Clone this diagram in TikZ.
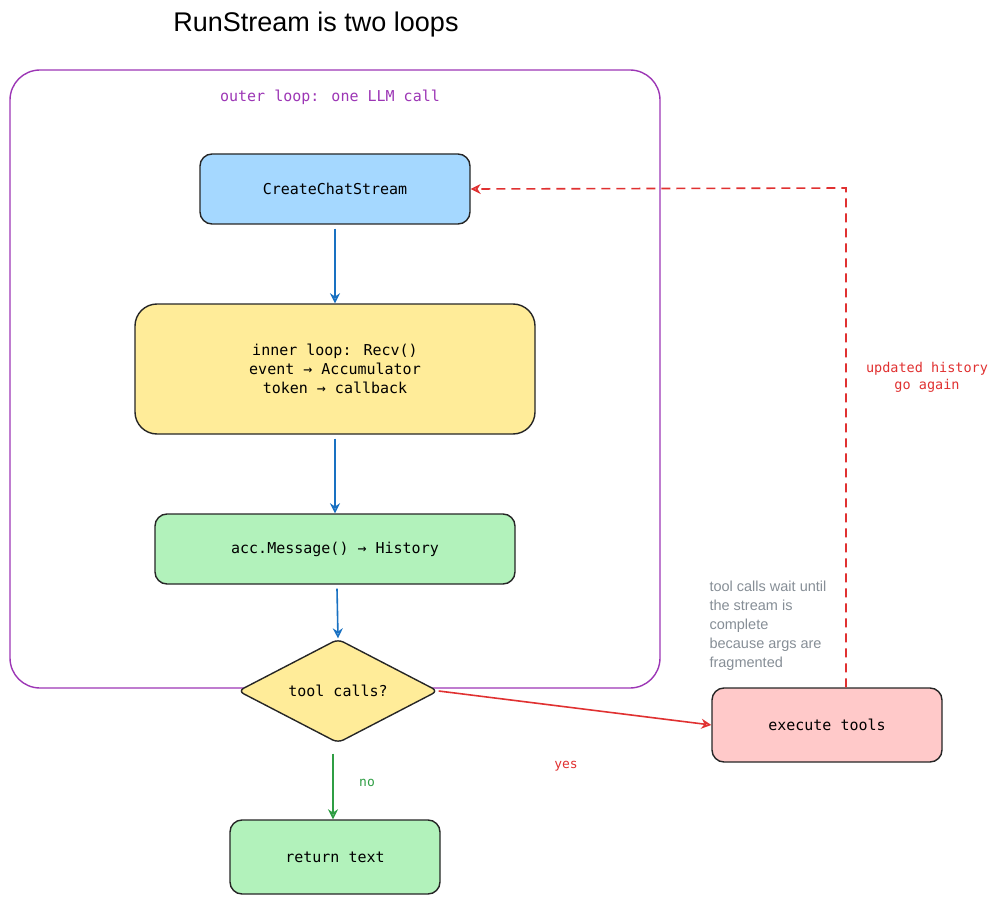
\documentclass[tikz,border=0pt]{standalone}
\usepackage{fontspec}
\setmainfont{Liberation Sans}
\newfontfamily\monof{DejaVu Sans Mono}
\usetikzlibrary{shapes.geometric,arrows.meta}
\definecolor{cblue}{HTML}{A5D8FF}
\definecolor{cyel}{HTML}{FFEC99}
\definecolor{cgreen}{HTML}{B2F2BB}
\definecolor{cpink}{HTML}{FFC9C9}
\definecolor{apurple}{HTML}{9C36B5}
\definecolor{ablue}{HTML}{1971C2}
\definecolor{agreen}{HTML}{2F9E44}
\definecolor{ared}{HTML}{E03131}
\definecolor{ngrey}{HTML}{868E96}
\begin{document}
\begin{tikzpicture}[x=1pt,y=-1pt,
 box/.style={draw=black!85,line width=1.4pt,rounded corners=12pt,font=\monof\fontsize{15}{19}\selectfont,align=center},
 barrow/.style={-{Stealth[open,length=10pt,width=10pt]},line width=1.6pt}]
\useasboundingbox (0,0) rectangle (999,904);
\node[font=\fontsize{27}{32}\selectfont] (title) at (316,25) {RunStream is two loops};
\draw[apurple,line width=1.4pt,rounded corners=30pt] (10,70) rectangle (660,688);
\node[apurple,font=\monof\fontsize{15}{19}\selectfont] (outer) at (330,97) {outer loop: one LLM call};
\node[box,fill=cblue,minimum width=270pt,minimum height=70pt] (ccs) at (335,189) {CreateChatStream};
\node[box,fill=cyel,minimum width=400pt,minimum height=130pt,rounded corners=22pt] (inner) at (335,369) {inner loop: Recv()\\event → Accumulator\\token → callback};
\node[box,fill=cgreen,minimum width=360pt,minimum height=70pt] (acc) at (335,549) {acc.Message() → History};
\node[draw=black!85,line width=1.4pt,diamond,aspect=1.9,fill=cyel,minimum width=200pt,minimum height=104pt,inner sep=0pt,rounded corners=6pt,font=\monof\fontsize{15}{19}\selectfont] (dec) at (338,691) {tool calls?};
\node[box,fill=cgreen,minimum width=210pt,minimum height=74pt] (ret) at (335,857) {return text};
\node[box,fill=cpink,minimum width=230pt,minimum height=74pt] (exe) at (827,725) {execute tools};
\draw[barrow,ablue] (ccs.south) ++(0,4) -- (inner.north);
\draw[barrow,ablue] (inner.south) ++(0,4) -- (acc.north);
\draw[barrow,ablue] (acc.south) ++(2,4) -- (dec.north);
\draw[barrow,agreen] (dec.south) ++(-5,10) coordinate (g) -- (g |- ret.north);
\node[agreen,font=\monof\fontsize{13}{16}\selectfont] (no) at (367,783) {no};
\draw[barrow,ared] (dec.east) -- (exe.west);
\node[ared,font=\monof\fontsize{13}{16}\selectfont] (yes) at (566,766) {yes};
\draw[barrow,ared,dashed,dash pattern=on 9pt off 6pt] (exe.north -| 846,0) -- (846,188) -- (ccs.east);
\node[ared,font=\monof\fontsize{13.5}{17}\selectfont,align=center] (upd) at (927,377) {updated history\\go again};
\node[ngrey,font=\fontsize{14.5}{19}\selectfont,align=left,anchor=north west] (note) at (706,577) {tool calls wait until\\the stream is\\complete\\because args are\\fragmented};
\end{tikzpicture}
\end{document}
